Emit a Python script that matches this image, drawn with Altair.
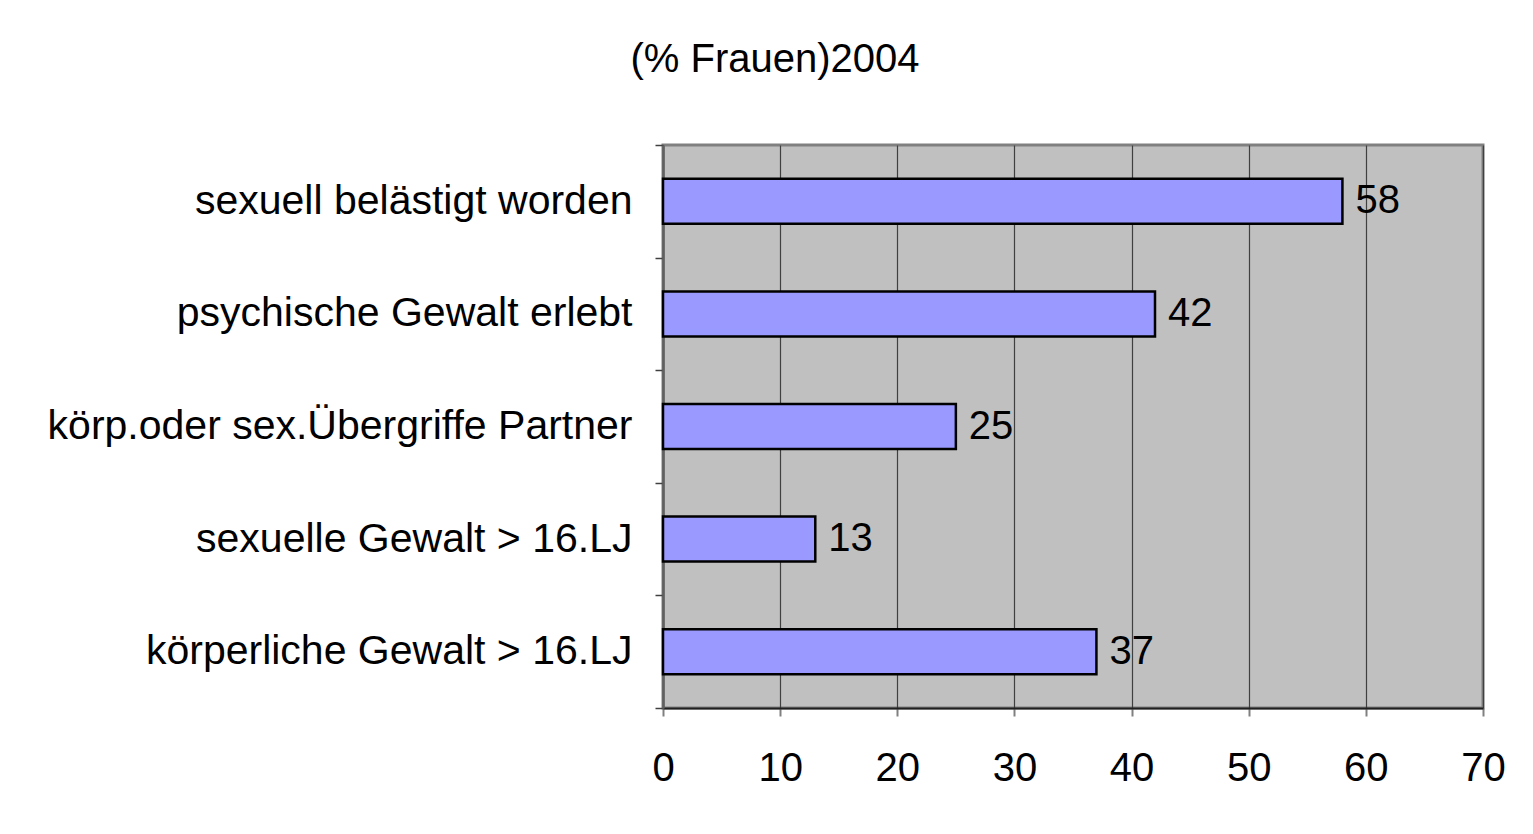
import altair as alt
import pandas as pd

categories = [
    "sexuell belästigt worden",
    "psychische Gewalt erlebt",
    "körp.oder sex.Übergriffe Partner",
    "sexuelle Gewalt > 16.LJ",
    "körperliche Gewalt > 16.LJ",
]
values = [58, 42, 25, 13, 37]
x_ticks = [0, 10, 20, 30, 40, 50, 60, 70]

df = pd.DataFrame({"cat": categories, "val": values})

FONT = "Liberation Sans"
FS = 40

y_enc = alt.Y(
    "cat:N",
    sort=categories,
    title=None,
    scale=alt.Scale(paddingInner=0, paddingOuter=0),
    axis=alt.Axis(
        tickBand="extent",
        tickSize=8,
        tickColor="#404040",
        tickWidth=1.5,
        domainColor="#606060",
        domainWidth=2.5,
        labelPadding=23,
        labelFont=FONT,
        labelFontSize=41,
        labelColor="#000000",
        labelLimit=800,
        grid=False,
    ),
)

x_enc = alt.X(
    "val:Q",
    title=None,
    scale=alt.Scale(domain=[0, 70], nice=False),
    axis=alt.Axis(
        values=x_ticks,
        tickSize=8,
        tickColor="#808080",
        tickWidth=2,
        domainColor="#202020",
        domainWidth=2,
        labelPadding=32,
        labelFlush=False,
        labelFont=FONT,
        labelFontSize=FS,
        labelColor="#000000",
        grid=True,
        gridColor="#404040",
        gridWidth=1.2,
    ),
)

bars = alt.Chart(df).mark_bar(
    color="#9999FF",
    stroke="#000000",
    strokeWidth=2.5,
    height=alt.RelativeBandSize(band=0.4),
).encode(x=x_enc, y=y_enc)

labels = alt.Chart(df).mark_text(
    align="left", baseline="middle", dx=13, font=FONT, fontSize=FS, color="#000000"
).encode(
    x=alt.X("val:Q", scale=alt.Scale(domain=[0, 70], nice=False)),
    y=alt.Y("cat:N", sort=categories),
    text=alt.Text("val:Q"),
)

chart = (
    alt.layer(bars, labels)
    .properties(
        width=820,
        height=563,
        autosize=alt.AutoSizeParams(type="none"),
        padding={"left": 655, "top": 137, "right": 42, "bottom": 118},
        background="#FFFFFF",
        title=alt.TitleParams(
            "(% Frauen)2004",
            font=FONT,
            fontSize=FS,
            fontWeight="normal",
            color="#000000",
            anchor="middle",
            dx=-298,
            offset=44,
        ),
    )
    .configure_view(fill="#C0C0C0", stroke="#808080", strokeWidth=3)
)

chart.save("out.html", embed_options={"renderer": "svg", "actions": False})
